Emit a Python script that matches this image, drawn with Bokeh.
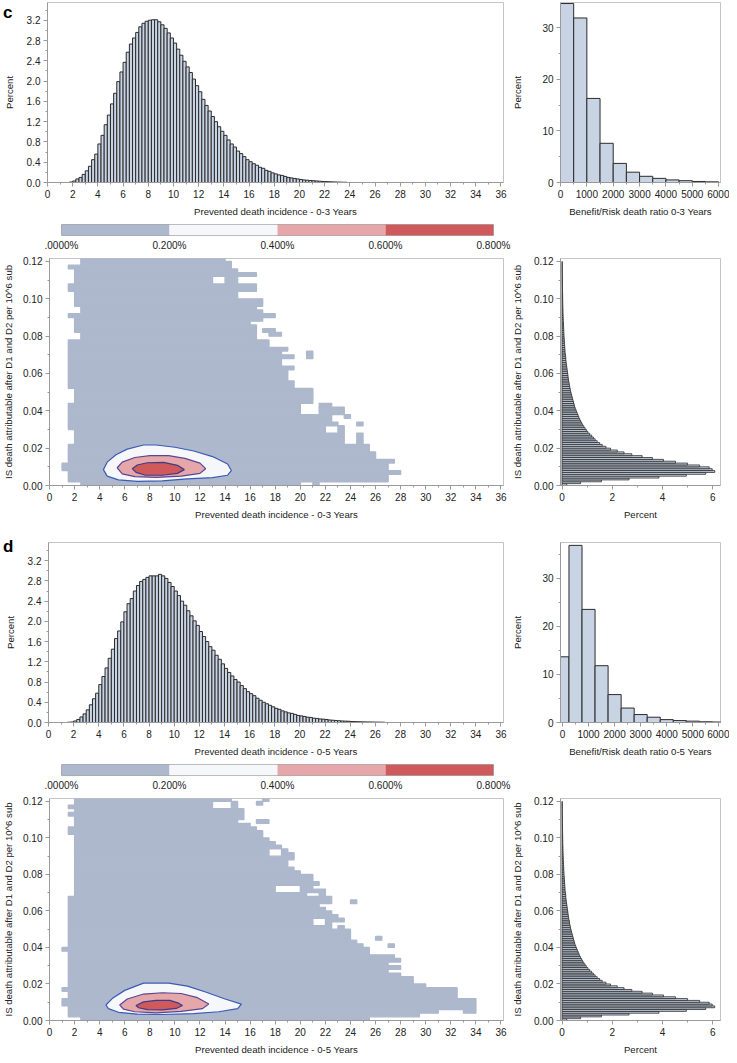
from bokeh.plotting import figure
from bokeh.layouts import column, row
from bokeh.models import (Range1d, SingleIntervalTicker, FixedTicker, NumeralTickFormatter,
                          LinearAxis)
from bokeh.embed import file_html
from bokeh.resources import INLINE

FONT = "Liberation Sans"
TXT = "#222222"
AX = "#9a9a9a"
HIST_FILL = "#c8d3e4"
HIST_LINE = "#2b2b2b"

# ---------------- data ----------------
BIN_W = 0.25
c_prev_start = 1.75
c_prev_pct = [0.01, 0.03, 0.07, 0.10, 0.16, 0.23, 0.32, 0.45, 0.56, 0.76, 0.93, 1.14, 1.33, 1.55, 1.76, 1.99,
              2.18, 2.37, 2.57, 2.73, 2.85, 2.96, 3.07, 3.14, 3.18, 3.20, 3.21, 3.21, 3.17, 3.11, 3.04, 2.95,
              2.85, 2.75, 2.63, 2.51, 2.39, 2.28, 2.17, 2.04, 1.91, 1.79, 1.64, 1.52, 1.41, 1.30, 1.20, 1.10,
              1.01, 0.93, 0.84, 0.76, 0.70, 0.62, 0.57, 0.51, 0.45, 0.41, 0.37, 0.34, 0.30, 0.28, 0.24, 0.22,
              0.19, 0.17, 0.15, 0.14, 0.12, 0.10, 0.09, 0.08, 0.07, 0.06, 0.05, 0.045, 0.04, 0.035, 0.03,
              0.025, 0.02, 0.018, 0.015, 0.012, 0.01, 0.008, 0.006, 0.005]
d_prev_start = 1.5
d_prev_pct = [0.005, 0.01, 0.03, 0.06, 0.11, 0.17, 0.25, 0.35, 0.47, 0.58, 0.75, 0.91, 1.08, 1.27, 1.45, 1.66,
              1.81, 1.99, 2.19, 2.35, 2.45, 2.60, 2.71, 2.79, 2.83, 2.87, 2.90, 2.90, 2.90, 2.93, 2.90, 2.85,
              2.77, 2.69, 2.60, 2.51, 2.40, 2.32, 2.21, 2.11, 2.01, 1.92, 1.80, 1.70, 1.60, 1.50, 1.43, 1.33,
              1.25, 1.16, 1.07, 0.99, 0.92, 0.85, 0.80, 0.73, 0.67, 0.61, 0.57, 0.53, 0.48, 0.44, 0.40, 0.37,
              0.34, 0.31, 0.28, 0.26, 0.23, 0.21, 0.19, 0.18, 0.16, 0.14, 0.13, 0.12, 0.105, 0.10, 0.085, 0.08,
              0.07, 0.065, 0.06, 0.05, 0.045, 0.04, 0.035, 0.03, 0.027, 0.025, 0.02, 0.018, 0.016, 0.014,
              0.012, 0.011, 0.01, 0.009, 0.008, 0.007, 0.006]

ratio_bin_w = 500
c_ratio_start = 0
c_ratio_pct = [34.7, 31.9, 16.3, 7.6, 3.7, 2.0, 1.2, 0.8, 0.5, 0.35, 0.2, 0.13]
d_ratio_start = -250
d_ratio_pct = [13.65, 36.8, 23.5, 11.8, 5.8, 3.0, 1.65, 1.1, 0.6, 0.4, 0.28, 0.15, 0.1]

IS_BIN = 0.001
is_death_pct = [0.19, 0.74, 1.57, 2.67, 3.86, 4.95, 5.72, 6.08, 5.98, 5.86,
                5.48, 5.00, 4.52, 4.04, 3.60, 3.19, 2.78, 2.47, 2.20, 1.93,
                1.75, 1.60, 1.50, 1.40, 1.32, 1.25, 1.18, 1.10, 1.03, 0.97,
                0.92, 0.87, 0.82, 0.78, 0.74, 0.70, 0.67, 0.64, 0.61, 0.58,
                0.55, 0.52, 0.50, 0.48, 0.46, 0.44, 0.42, 0.40, 0.38, 0.36,
                0.34, 0.33, 0.31, 0.30, 0.29, 0.27, 0.26, 0.25, 0.24, 0.23,
                0.22, 0.21, 0.20, 0.19, 0.18, 0.17, 0.16, 0.15, 0.15, 0.14,
                0.13, 0.12, 0.12, 0.11, 0.11, 0.10, 0.10, 0.09, 0.09, 0.08,
                0.08, 0.075, 0.07, 0.07, 0.065, 0.06, 0.06, 0.055, 0.05, 0.05,
                0.045, 0.045, 0.04, 0.04, 0.038, 0.035, 0.033, 0.03, 0.03, 0.028,
                0.026, 0.025, 0.024, 0.022, 0.021, 0.02, 0.019, 0.018, 0.017, 0.016,
                0.015, 0.015, 0.014, 0.013, 0.012, 0.012, 0.011, 0.01, 0.01, 0.009]

# density heat map: non-empty bins per row (row height 0.002), as x-intervals
HEAT_DY = 0.002
c_heat_rows = [
    [(2.5, 20.0), (21.0, 21.5)], [(1.5, 27.0)], [(1.5, 27.0)], [(1.5, 28.0)], [(1.0, 27.0)],
    [(1.0, 27.0)], [(1.5, 27.5)], [(1.5, 26.0)], [(1.5, 26.0)], [(1.5, 25.5)],
    [(1.5, 25.5)], [(2.0, 23.5), (24.5, 25.0)], [(2.0, 23.5), (24.5, 25.0)], [(2.0, 23.5), (24.5, 25.0)],
    [(2.0, 22.0), (23.0, 23.5)], [(1.5, 22.0), (23.0, 23.5)], [(1.5, 23.0), (24.5, 25.0)], [(1.5, 22.5)],
    [(1.5, 22.5), (23.5, 24.0)], [(1.5, 20.0), (21.5, 23.5)], [(1.5, 20.0), (21.5, 23.5)],
    [(1.5, 20.0), (21.5, 22.5)], [(2.0, 21.0)], [(2.0, 21.0)], [(2.0, 21.0)], [(2.0, 21.0)],
    [(1.5, 19.5)], [(1.5, 19.5)], [(1.5, 19.0)], [(1.5, 19.0)], [(1.5, 19.0)], [(1.5, 19.5)],
    [(1.5, 18.5)], [(1.5, 18.5)], [(1.5, 19.5), (20.5, 21.0)], [(1.5, 18.5), (20.5, 21.0)],
    [(1.5, 19.0)], [(1.5, 17.5)], [(1.5, 17.5)], [(2.5, 16.5)], [(2.5, 16.5), (17.5, 18.5)],
    [(2.0, 16.5), (17.0, 18.0)], [(2.0, 16.5)], [(2.0, 16.0)], [(2.0, 17.0)], [(1.5, 18.0)],
    [(2.5, 17.0)], [(2.5, 16.5)], [(2.0, 17.0)], [(2.0, 17.0)], [(2.0, 15.0)], [(2.0, 15.0)],
    [(1.5, 16.5)], [(1.5, 16.5)], [(2.0, 13.0), (14.0, 15.0)], [(2.0, 13.0), (14.0, 15.0)],
    [(2.0, 16.5)], [(2.0, 15.0)], [(1.5, 14.5)], [(2.5, 14.5)], [(2.5, 14.0)],
]
d_heat_rows = [
    [(2.5, 25.5)], [(1.5, 29.5)], [(1.5, 31.0), (33.0, 34.0)], [(1.5, 34.0)], [(1.0, 34.0)],
    [(1.0, 34.0)], [(1.5, 32.5)], [(1.5, 32.5)], [(1.0, 32.5)], [(1.5, 30.0)],
    [(1.5, 29.0)], [(1.5, 29.0)], [(1.5, 28.0)], [(1.5, 27.0)], [(1.5, 28.0)],
    [(1.5, 27.0)], [(1.5, 28.0)], [(1.5, 27.5)], [(1.5, 25.5)], [(1.0, 25.5)],
    [(1.5, 25.0), (27.0, 27.5)], [(1.5, 24.5)], [(1.5, 24.0), (26.0, 26.5)], [(1.5, 24.0)], [(1.5, 24.0)],
    [(1.5, 22.5), (23.0, 23.5)], [(1.5, 21.0), (22.0, 22.5)], [(1.5, 21.0), (22.0, 23.5)], [(1.5, 23.0)],
    [(1.5, 22.5)], [(1.5, 22.0)], [(1.5, 21.5)], [(1.5, 22.5), (24.0, 24.5)], [(1.5, 22.5)],
    [(2.0, 20.5), (21.5, 22.0)], [(2.0, 18.0), (20.0, 22.0)], [(2.0, 18.0), (20.0, 21.0)],
    [(2.0, 21.5)], [(2.0, 21.0)], [(2.0, 21.0)], [(2.0, 20.0)], [(2.0, 19.5)], [(2.0, 19.0)],
    [(2.0, 19.0)], [(2.0, 19.5)], [(2.0, 17.5), (18.5, 19.5)], [(2.0, 17.5), (18.5, 19.0)],
    [(2.0, 18.5)], [(2.0, 18.0)], [(2.0, 17.5)], [(2.0, 17.0)], [(1.5, 17.0)], [(1.5, 16.5)],
    [(2.0, 16.0)], [(2.0, 15.0), (16.5, 17.5)], [(2.0, 15.5)], [(1.5, 15.5)], [(2.0, 15.5)],
    [(1.5, 13.0), (14.5, 15.0)], [(2.0, 13.0), (14.5, 15.0), (16.5, 17.0)], [(2.0, 14.5), (17.0, 17.5)],
]

# density contours (0.2%, 0.4%, 0.6% levels)
c_cont_outer_x = [4.3, 4.6, 5.3, 6.2, 7.5, 8.5, 10.0, 11.5, 13.0, 14.2, 14.5, 14.2, 13.0, 11.0, 9.0, 7.0, 5.5, 4.6, 4.3]
c_cont_outer_y = [0.0085, 0.0125, 0.0165, 0.0195, 0.0217, 0.0217, 0.0205, 0.0185, 0.0155, 0.0115, 0.008,
                  0.0055, 0.0042, 0.0035, 0.0025, 0.0022, 0.003, 0.005, 0.0085]
c_cont_mid_x = [5.4, 5.8, 6.8, 8.0, 9.5, 10.8, 12.0, 12.45, 12.0, 10.5, 8.5, 6.8, 5.8, 5.4]
c_cont_mid_y = [0.0095, 0.0125, 0.015, 0.016, 0.016, 0.0145, 0.012, 0.009, 0.0065, 0.005, 0.0043, 0.0048, 0.0062, 0.0095]
c_cont_in_x = [6.6, 7.0, 7.8, 9.1, 10.2, 10.75, 10.2, 9.0, 7.6, 6.9, 6.6]
c_cont_in_y = [0.009, 0.011, 0.0122, 0.0124, 0.0108, 0.0085, 0.0065, 0.0055, 0.0056, 0.007, 0.009]

d_cont_outer_x = [4.5, 5.0, 6.0, 7.5, 9.5, 11.0, 12.5, 14.0, 15.3, 15.0, 13.5, 11.5, 9.0, 7.0, 5.5, 4.7, 4.5]
d_cont_outer_y = [0.0085, 0.012, 0.0165, 0.0205, 0.0205, 0.0188, 0.0155, 0.0118, 0.009, 0.0065, 0.0048,
                  0.0038, 0.0033, 0.0035, 0.0045, 0.0065, 0.0085]
d_cont_mid_x = [5.6, 6.2, 7.5, 9.0, 10.5, 11.8, 12.7, 12.2, 10.5, 8.5, 6.8, 5.9, 5.6]
d_cont_mid_y = [0.0085, 0.0118, 0.0145, 0.0152, 0.0148, 0.0125, 0.009, 0.0065, 0.005, 0.0042, 0.0048, 0.0062, 0.0085]
d_cont_in_x = [6.9, 7.5, 8.5, 9.6, 10.3, 10.6, 10.1, 9.0, 7.8, 7.1, 6.9]
d_cont_in_y = [0.0082, 0.0102, 0.011, 0.011, 0.0095, 0.0082, 0.0066, 0.0058, 0.006, 0.007, 0.0082]

LEVELS = [0.0, 0.2, 0.4, 0.6, 0.8]
LEVEL_LABELS = [".0000%", "0.200%", "0.400%", "0.600%", "0.800%"]
LEVEL_COLORS = ["#adb8cd", "#f6f7fb", "#e5a7a9", "#d0595b"]
CONTOUR_LINES = ["#3a5ab4", "#5a4595", "#3b3c8c"]

LEFT_W = 507
RIGHT_W = 222


# ---------------- helpers ----------------
def style(p, xt, yt, xfmt, yfmt, xlabel, ylabel):
    p.xaxis.ticker = xt
    p.yaxis.ticker = yt
    p.xaxis.formatter = NumeralTickFormatter(format=xfmt)
    p.yaxis.formatter = NumeralTickFormatter(format=yfmt)
    p.xaxis.axis_label = xlabel
    p.yaxis.axis_label = ylabel
    for ax in p.axis:
        ax.axis_line_color = AX
        ax.major_tick_line_color = AX
        ax.minor_tick_line_color = AX
        ax.major_tick_out = 4
        ax.major_tick_in = 0
        ax.minor_tick_out = 2
        ax.minor_tick_in = 0
        ax.major_label_text_font = FONT
        ax.major_label_text_font_size = "10px"
        ax.major_label_text_color = TXT
        ax.axis_label_text_font = FONT
        ax.axis_label_text_font_size = "9.6px"
        ax.axis_label_text_font_style = "normal"
        ax.axis_label_text_color = TXT
        ax.major_label_standoff = 3
        ax.axis_label_standoff = 5
    p.grid.visible = False
    p.outline_line_color = "#c4c4c4"
    p.background_fill_color = "white"
    p.border_fill_color = "white"


def fig(w, h, xr, yr, top, left, right, bottom):
    return figure(width=w, height=h, x_range=Range1d(*xr), y_range=Range1d(*yr),
                  output_backend="svg", toolbar_location=None, tools="",
                  min_border_top=top, min_border_left=left, min_border_right=right,
                  min_border_bottom=bottom)


def panel_letter(p, text, at):
    # zero-width outer axis whose single label overlaps the title column
    ax = LinearAxis(ticker=FixedTicker(ticks=[at]), major_label_overrides={at: text})
    ax.axis_line_color = None
    ax.major_tick_line_color = None
    ax.minor_tick_line_color = None
    ax.major_tick_out = 0
    ax.major_tick_in = 0
    ax.major_label_standoff = -12
    ax.major_label_text_font = FONT
    ax.major_label_text_font_size = "17px"
    ax.major_label_text_font_style = "bold"
    ax.major_label_text_color = "black"
    p.add_layout(ax, "left")


def prevented_hist(start, vals, label, top, frame_h, bottom, yr, letter, letter_at):
    p = fig(LEFT_W, top + frame_h + bottom, (0, 36.2), yr, top, 44, 4, bottom)
    lefts = [start + i * BIN_W for i in range(len(vals))]
    rights = [l + BIN_W for l in lefts]
    p.quad(left=lefts, right=rights, bottom=0, top=vals, fill_color=HIST_FILL,
           line_color=HIST_LINE, line_width=1)
    style(p, SingleIntervalTicker(interval=2, num_minor_ticks=2),
          SingleIntervalTicker(interval=0.4, num_minor_ticks=2), "0", "0.0",
          label, "Percent")
    p.yaxis.major_label_standoff = 3
    p.yaxis.axis_label_standoff = 9
    panel_letter(p, letter, letter_at)
    return p


def ratio_hist(start, vals, label, top, frame_h, bottom, xr, yr):
    p = fig(RIGHT_W, top + frame_h + bottom, xr, yr, top, 53, 9, bottom)
    lefts = [start + i * ratio_bin_w for i in range(len(vals))]
    rights = [l + ratio_bin_w for l in lefts]
    p.quad(left=lefts, right=rights, bottom=0, top=vals, fill_color=HIST_FILL,
           line_color=HIST_LINE, line_width=1)
    style(p, SingleIntervalTicker(interval=1000, num_minor_ticks=2),
          SingleIntervalTicker(interval=10, num_minor_ticks=2), "0", "0",
          label, "Percent")
    p.yaxis.axis_label_standoff = 16
    return p


def colorbar():
    p = figure(width=529, height=33, x_range=Range1d(0, 0.8), y_range=Range1d(0, 1),
               output_backend="svg", toolbar_location=None, tools="",
               min_border_top=4, min_border_left=61, min_border_right=36, min_border_bottom=18)
    p.quad(left=LEVELS[:-1], right=LEVELS[1:], bottom=0, top=1, fill_color=LEVEL_COLORS,
           line_color=None)
    p.yaxis.visible = False
    p.grid.visible = False
    p.outline_line_color = "#a8a8a8"
    ax = p.xaxis[0]
    ax.ticker = FixedTicker(ticks=LEVELS)
    ax.major_label_overrides = {v: s for v, s in zip(LEVELS, LEVEL_LABELS)}
    ax.axis_line_color = None
    ax.major_tick_line_color = None
    ax.minor_tick_line_color = None
    ax.major_tick_out = 0
    ax.major_tick_in = 0
    ax.major_label_standoff = 4
    ax.major_label_text_font = FONT
    ax.major_label_text_font_size = "10px"
    ax.major_label_text_color = TXT
    return p


def heatmap(rows, cx, label, frame_h, bottom):
    p = fig(LEFT_W, 5 + frame_h + bottom, (0, 36.2), (0, 0.1216), 5, 44, 4, bottom)
    L, R, B, T = [], [], [], []
    for k, segs in enumerate(rows):
        for (x0, x1) in segs:
            L.append(x0); R.append(x1); B.append(k * HEAT_DY); T.append((k + 1) * HEAT_DY)
    p.quad(left=L, right=R, bottom=B, top=T, fill_color=LEVEL_COLORS[0],
           line_color=LEVEL_COLORS[0], line_width=1.3)
    for (xs, ys), fc, lc in zip(cx, LEVEL_COLORS[1:], CONTOUR_LINES):
        p.patch(xs, ys, fill_color=fc, line_color=lc, line_width=1.2)
    style(p, SingleIntervalTicker(interval=2, num_minor_ticks=2),
          SingleIntervalTicker(interval=0.02, num_minor_ticks=2), "0", "0.00",
          label, "IS death attributable after D1 and D2 per 10^6 sub")
    p.yaxis.major_label_standoff = 3
    p.yaxis.axis_label_standoff = 6
    return p


def is_hist(frame_h, bottom):
    p = fig(RIGHT_W, 5 + frame_h + bottom, (-0.06, 6.31), (0, 0.1216), 5, 53, 9, bottom)
    bottoms = [i * IS_BIN for i in range(len(is_death_pct))]
    tops = [b + IS_BIN for b in bottoms]
    p.quad(left=0, right=is_death_pct, bottom=bottoms, top=tops, fill_color=HIST_FILL,
           line_color=HIST_LINE, line_width=0.8)
    style(p, SingleIntervalTicker(interval=2, num_minor_ticks=2),
          SingleIntervalTicker(interval=0.02, num_minor_ticks=2), "0", "0.00",
          "Percent", "IS death attributable after D1 and D2 per 10^6 sub")
    p.yaxis.axis_label_standoff = 8
    return p


# ---------------- panel c ----------------
A = prevented_hist(c_prev_start, c_prev_pct, "Prevented death incidence - 0-3 Years", 2, 180, 38,
                   (0, 3.55), "c", 3.46)
A2 = ratio_hist(c_ratio_start, c_ratio_pct, "Benefit/Risk death ratio 0-3 Years", 2, 180, 38,
                (0, 6070), (0, 34.9))
CB1 = colorbar()
B = heatmap(c_heat_rows, [(c_cont_outer_x, c_cont_outer_y), (c_cont_mid_x, c_cont_mid_y),
                          (c_cont_in_x, c_cont_in_y)], "Prevented death incidence - 0-3 Years", 228, 36)
B2 = is_hist(228, 36)

# ---------------- panel d ----------------
C = prevented_hist(d_prev_start, d_prev_pct, "Prevented death incidence - 0-5 Years", 20, 180, 38,
                   (0, 3.56), "d", 3.48)
C2 = ratio_hist(d_ratio_start, d_ratio_pct, "Benefit/Risk death ratio 0-5 Years", 20, 180, 38,
                (-75, 6060), (0, 37.4))
CB2 = colorbar()
D = heatmap(d_heat_rows, [(d_cont_outer_x, d_cont_outer_y), (d_cont_mid_x, d_cont_mid_y),
                          (d_cont_in_x, d_cont_in_y)], "Prevented death incidence - 0-5 Years", 225, 34)
D2 = is_hist(225, 34)

layout = column(row(A, A2), CB1, row(B, B2), row(C, C2), CB2, row(D, D2))

open("out.html", "w").write(file_html(layout, INLINE))
